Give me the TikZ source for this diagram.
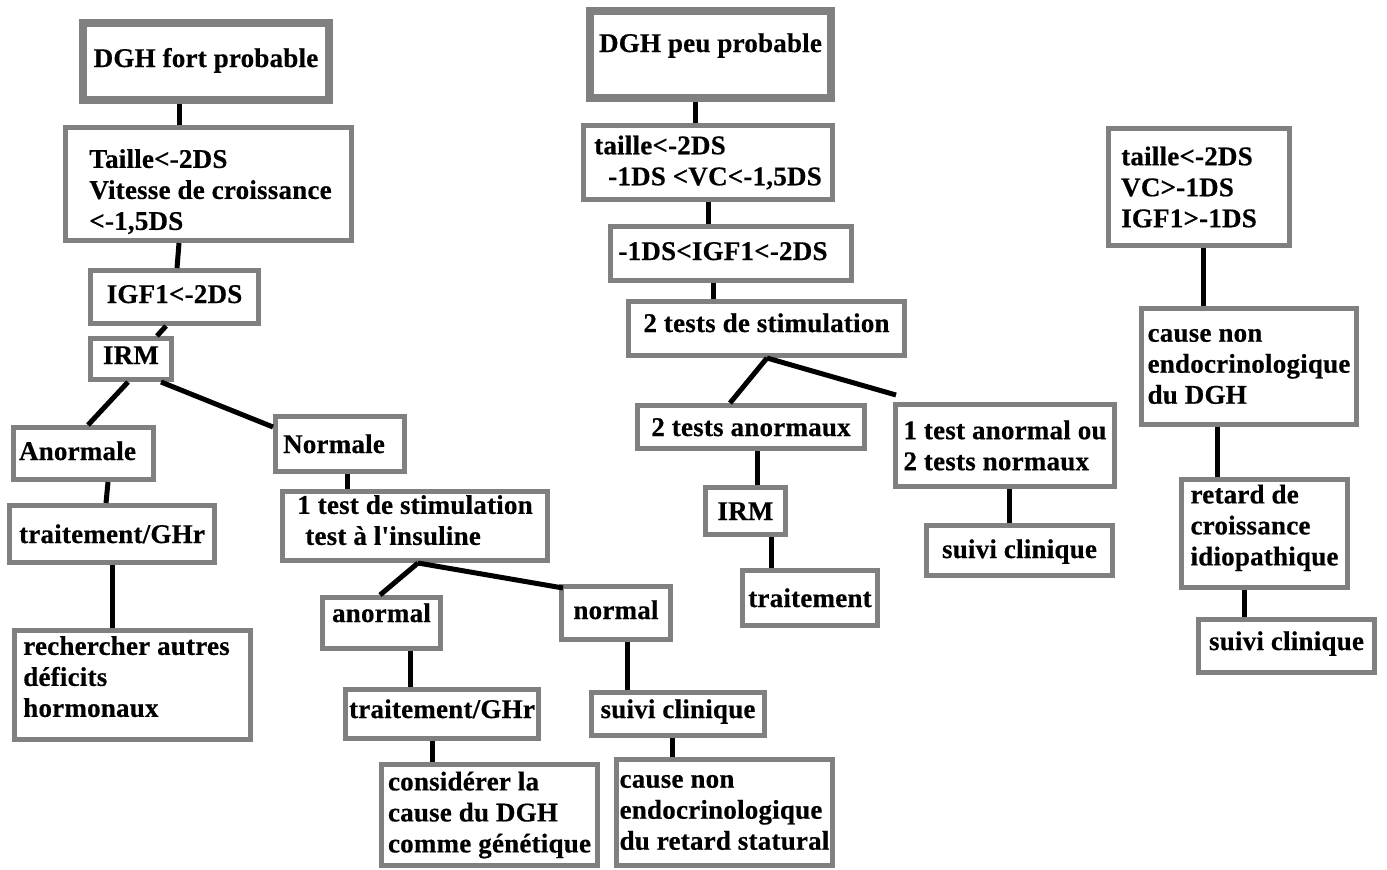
\documentclass[tikz,border=0pt]{standalone}
\usepackage{fontspec}
\setmainfont{Liberation Serif}[Ligatures=TeXOff,BoldFeatures={FakeBold=0.5,LetterSpace=0.8}]
\definecolor{boxgray}{RGB}{128,128,128}
\newcommand\padtop[1]{\rule{0pt}{#1}}
\newcommand\padbot[1]{\rule[-#1]{0pt}{#1}}

\begin{document}
\begin{tikzpicture}[x=1pt,y=-1pt]
  \tikzset{box/.style={draw=boxgray,line width=5pt,inner sep=0pt,align=left,anchor=north west,
      font=\bfseries\fontsize{27}{31}\selectfont},
    topbox/.style={box,line width=8pt},
    spot/.style n args={4}{at={(#1,#2)},minimum width={#3-#1-\pgflinewidth},minimum height={#4-#2-\pgflinewidth}},
    dp/.style={text height=18pt,text depth=#1pt},
    link/.style={line width=5pt}}
  \useasboundingbox (0,0) rectangle (1387,870);

  % DGH fort probable
  \node[topbox,spot={79}{19}{333}{104},dp=7] (fort) {DGH fort probable};
  \node[box,spot={63}{125}{354}{243}] (taille) {\padtop{34pt}\hspace*{4pt}Taille<-2DS\\\hspace*{4pt}Vitesse de croissance\\\hspace*{4pt}<-1,5DS};
  \node[box,spot={88}{268}{261}{326},dp=6] (igf) {IGF1<-2DS};
  \node[box,spot={88}{336}{174}{382},dp=8] (irm) {IRM};
  \node[box,spot={11}{425}{156}{482},dp=5] (anormale) {Anormale\hspace*{12pt}};
  \node[box,spot={273}{414}{407}{474},dp=0] (normale) {Normale\hspace*{12pt}};
  \node[box,spot={7}{503}{217}{565},dp=0] (ghr) {traitement/GHr};
  \node[box,spot={12}{628}{253}{742}] (autres) {rechercher autres\hspace*{12pt}\\déficits\\hormonaux\padbot{17pt}};
  \node[box,spot={280}{489}{550}{563}] (stim) {1 test de stimulation\\\hspace*{8pt}test à l'insuline\padbot{12pt}};
  \node[box,spot={320}{595}{443}{651},dp=20] (anormal) {anormal};
  \node[box,spot={559}{584}{673}{642},dp=6] (normal) {normal};
  \node[box,spot={343}{687}{541}{741},dp=10] (ghrb) {traitement/GHr};
  \node[box,spot={379}{762}{600}{868}] (genet) {considérer la\\cause du DGH\\comme génétique};
  \node[box,spot={589}{690}{767}{738},dp=10] (suivi) {suivi clinique};
  \node[box,spot={614}{757}{835}{868}] (statural) {cause non\\endocrinologique\\du retard statural};

  \draw[link] ([xshift=-27pt]fort.south) -- ([xshift=-29.5pt]taille.north);
  \draw[link] ([xshift=-29.5pt]taille.south) -- ([xshift=2.5pt]igf.north);
  \draw[link] ([xshift=-8.5pt]igf.south) -- ([xshift=26pt]irm.north);
  \draw[link] ([xshift=-3pt]irm.south) -- ([xshift=4.5pt]anormale.north);
  \draw[link] ([xshift=30pt]irm.south) -- ([yshift=-13pt]normale.north west);
  \draw[link] ([xshift=24.5pt]anormale.south) -- ([xshift=-6pt]ghr.north);
  \draw[link] (ghr.south) -- ([xshift=-20.5pt]autres.north);
  \draw[link] ([xshift=7pt]normale.south) -- ([xshift=-68pt]stim.north);
  \draw[link] ([xshift=3pt]stim.south) -- ([xshift=-1.5pt]anormal.north);
  \draw[link] ([xshift=3pt]stim.south) -- ([shift={(4pt,-4pt)}]normal.north west);
  \draw[link] ([xshift=28.5pt]anormal.south) -- ([xshift=-32pt]ghrb.north);
  \draw[link] ([xshift=11pt]normal.south) -- ([xshift=-51pt]suivi.north);
  \draw[link] ([xshift=-10pt]ghrb.south) -- ([xshift=-57.5pt]genet.north);
  \draw[link] ([xshift=-6pt]suivi.south) -- ([xshift=-52.5pt]statural.north);

  % DGH peu probable
  \node[topbox,spot={586}{7}{835}{102},dp=23] (peu) {DGH peu probable};
  \node[box,spot={581}{123}{835}{202}] (tailleb) {taille<-2DS\\\hspace*{14pt}-1DS <VC<-1,5DS};
  \node[box,spot={608}{224}{854}{283},dp=5] (igfb) {-1DS<IGF1<-2DS\hspace*{16pt}};
  \node[box,spot={626}{299}{907}{358},dp=11] (deux) {2 tests de stimulation};
  \node[box,spot={635}{403}{867}{451},dp=-4] (anormaux) {2 tests anormaux};
  \node[box,spot={893}{402}{1117}{489}] (normaux) {1 test anormal ou\\2 tests normaux};
  \node[box,spot={703}{485}{788}{537},dp=-4] (irmb) {IRM};
  \node[box,spot={740}{568}{880}{628},dp=-4] (trait) {traitement};
  \node[box,spot={924}{523}{1115}{578},dp=3] (suivib) {suivi clinique};

  \draw[link] ([xshift=-15.5pt]peu.south) -- ([xshift=-13pt]tailleb.north);
  \draw[link] (tailleb.south) -- ([xshift=-23pt]igfb.north);
  \draw[link] ([xshift=-18pt]igfb.south) -- ([xshift=-53.5pt]deux.north);
  \draw[link] ([xshift=0.5pt]deux.south) -- ([xshift=-21pt]anormaux.north);
  \draw[link] ([xshift=0.5pt]deux.south) -- ([shift={(3pt,7pt)}]normaux.north west);
  \draw[link] ([xshift=6pt]anormaux.south) -- ([xshift=11.5pt]irmb.north);
  \draw[link] ([xshift=25.5pt]irmb.south) -- ([xshift=-39pt]trait.north);
  \draw[link] ([xshift=4pt]normaux.south) -- ([xshift=-10.5pt]suivib.north);

  % colonne de droite
  \node[box,spot={1106}{126}{1292}{248}] (taillec) {taille<-2DS\\VC>-1DS\\IGF1>-1DS\hspace*{20pt}};
  \node[box,spot={1139}{306}{1359}{427}] (dgh) {cause non\\endocrinologique\\du DGH};
  \node[box,spot={1179}{477}{1350}{590}] (idio) {retard de\\croissance\\idiopathique\padbot{17pt}};
  \node[box,spot={1196}{617}{1377}{675},dp=10] (suivic) {suivi clinique};

  \draw[link] ([xshift=4pt]taillec.south) -- ([xshift=-46pt]dgh.north);
  \draw[link] ([xshift=-32pt]dgh.south) -- ([xshift=-47.5pt]idio.north);
  \draw[link] ([xshift=-20.5pt]idio.south) -- ([xshift=-42.5pt]suivic.north);
\end{tikzpicture}
\end{document}
